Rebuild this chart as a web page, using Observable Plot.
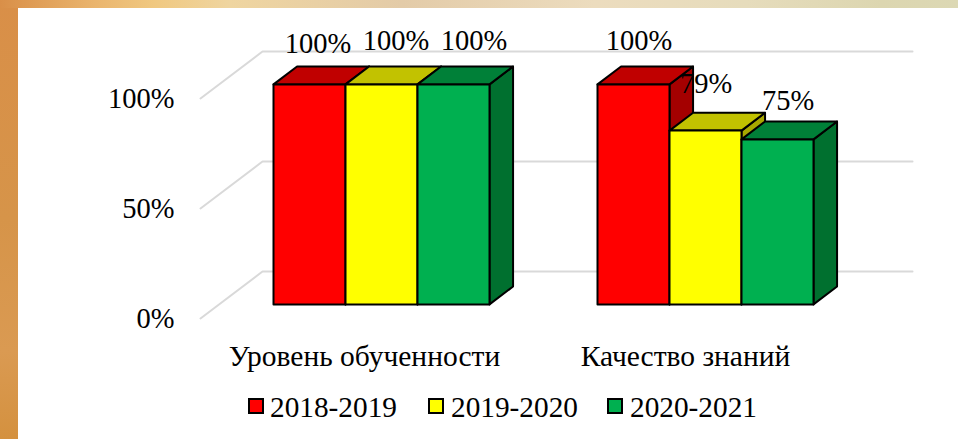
<!DOCTYPE html>
<html><head><meta charset="utf-8">
<script src="https://cdn.jsdelivr.net/npm/d3@7"></script>
<script src="https://cdn.jsdelivr.net/npm/@observablehq/plot@0.6"></script>
<style>
html,body{margin:0;padding:0;background:#fff}
#page{position:relative;width:958px;height:439px;overflow:hidden;background:#fff;font-family:"Liberation Serif",serif}
#left{position:absolute;left:0;top:0;width:18px;height:439px;background:linear-gradient(180deg,#d98f48,#d69449 50%,#da9a52 80%,#d4913f)}
#top{position:absolute;left:0;top:0;width:958px;height:8px;background:linear-gradient(90deg,#d98f48 0%,#eab56e 10%,#f0c880 16%,#efd5a0 24%,#e3cba8 42%,#ecdcbe 62%,#e6dcbc 78%,#dcd6b0 92%,#dcd8b4 100%)}
#chart{position:absolute;left:0;top:0}
#chart svg{background:transparent;display:block}
#legend{position:absolute;left:0;top:391px;width:958px;height:32px;font-size:29.3px;line-height:32px;color:#000}
.it{position:absolute;top:0;white-space:nowrap}
.sw{position:absolute;top:7px;width:12px;height:12px;border:2px solid #000}
</style></head>
<body><div id="page"><div id="left"></div><div id="top"></div><div id="chart"></div><div id="legend"></div></div>
<script>
const categories = ["Уровень обученности", "Качество знаний"];
const series = ["2018-2019", "2019-2020", "2020-2021"];
const values2018 = [100, 100];
const values2019 = [100, 79];
const values2020 = [100, 75];
const faceFront = ["#ff0000", "#ffff00", "#00b050"];
const faceTop = ["#c00000", "#c2c200", "#008038"];
const faceSide = ["#a40000", "#a8a800", "#00702f"];
const yTicks = [0, 50, 100];

const seriesValues = [values2018, values2019, values2020];
// oblique projection: depth d shifts x and y by these data units
const DX = 62 / 72, DY = 47 / 2.2;
const d0 = 0.3, d1 = 0.68;
const catStart = [0, 4.5];
const P = (u, v, d) => ({u: u + DX * (d - d0), v: v + DY * d});

const bars = [];
categories.forEach((c, ci) => series.forEach((s, si) => {
  bars.push({ci, si, u0: catStart[ci] + si, u1: catStart[ci] + si + 1, v: seriesValues[si][ci]});
}));

function facePoints(b, face) {
  if (face === "side") return [P(b.u1,0,d0),P(b.u1,0,d1),P(b.u1,b.v,d1),P(b.u1,b.v,d0)];
  if (face === "top") return [P(b.u0,b.v,d0),P(b.u0,b.v,d1),P(b.u1,b.v,d1),P(b.u1,b.v,d0)];
  return [P(b.u0,0,d0),P(b.u0,b.v,d0),P(b.u1,b.v,d0),P(b.u1,0,d0)];
}
const faceFill = {side: faceSide, top: faceTop, front: faceFront};
const faceMarks = bars.flatMap(b => ["side", "top", "front"].map(f =>
  Plot.line(facePoints(b, f), {x: "u", y: "v", fill: faceFill[f][b.si], stroke: "#000", strokeWidth: 2, curve: "linear-closed", strokeLinejoin: "round"})
));

const xLeft = -73 / 72, xRight = 639 / 72;
const gridRows = yTicks.flatMap(t => [{u: xLeft, v: t}, {u: xLeft + DX, v: t + DY}, {u: xRight, v: t + DY}].map(p => ({...p, t})));
const labelNudge = [[-3,-23],[3,-26],[9,-26],[-6,-26],[-11,-29],[-1,-21]];
const labelMarks = bars.map((b, i) => {
  const p = P((b.u0 + b.u1) / 2, b.v, d1);
  return Plot.text([b], {x: () => p.u, y: () => p.v, text: d => d.v + "%", dx: labelNudge[i][0] - 12, dy: labelNudge[i][1], fontSize: 28.5, fill: "#000"});
});
const catNudge = [-17, -20];
const catMarks = categories.map((c, i) => Plot.text([c], {x: () => catStart[i] + 1.5, frameAnchor: "bottom", dy: 38, dx: catNudge[i], lineAnchor: "middle", text: d => d, fontSize: 29.5, fill: "#000"}));

const plot = Plot.plot({
  width: 958, height: 439,
  marginLeft: 200, marginRight: 46, marginTop: 8, marginBottom: 121,
  style: {fontFamily: '"Liberation Serif",serif', background: "transparent", overflow: "visible"},
  x: {domain: [xLeft, xRight], axis: null},
  y: {domain: [0, 100 * (318 - 8) / 220]},
  marks: [
    Plot.line(gridRows, {x: "u", y: "v", z: "t", stroke: "#d9d9d9", strokeWidth: 2}),
    Plot.axisY({ticks: yTicks, tickFormat: d => d + "%", tickSize: 0, tickPadding: 26, fontSize: 28.5, color: "#000", label: null}),
    ...faceMarks,
    ...labelMarks,
    ...catMarks
  ]
});
document.getElementById("chart").appendChild(plot);

const lg = document.getElementById("legend");
const swX = [248, 428, 607], txX = [270, 451, 630];
series.forEach((s, i) => {
  const sw = document.createElement("div"); sw.className = "sw"; sw.style.left = swX[i] + "px"; sw.style.background = faceFront[i];
  const t = document.createElement("div"); t.className = "it"; t.style.left = txX[i] + "px"; t.textContent = s;
  lg.append(sw, t);
});
</script>
</body></html>
